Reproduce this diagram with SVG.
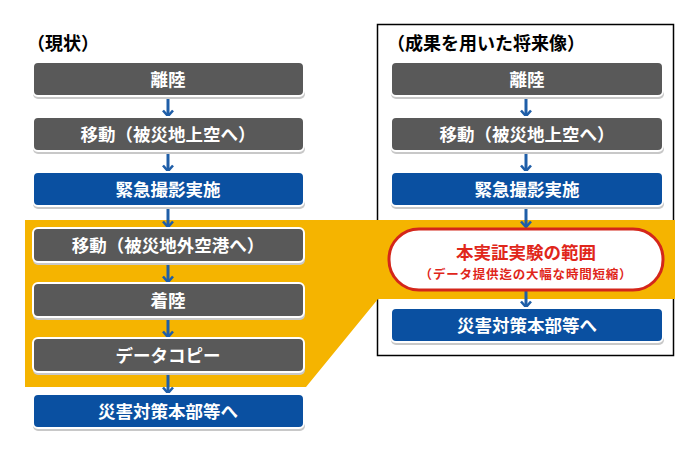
<svg xmlns="http://www.w3.org/2000/svg" width="694" height="450" viewBox="0 0 694 450">
<defs>
<style>
.t{font-family:"Noto Sans CJK JP","Noto Sans",sans-serif;font-weight:bold;}
.bx{stroke:#ffffff;stroke-width:2;}
.g{fill:#595959;}
.b{fill:#0A50A1;}
.sh{fill:#c8c8c8;}
.lbl{fill:#ffffff;font-size:17.5px;text-anchor:middle;}
.ar{stroke:#1F5EA8;stroke-width:3;fill:none;}
</style>
<marker id="ah" viewBox="0 0 10 12" refX="8.5" refY="6" markerWidth="10" markerHeight="12" markerUnits="userSpaceOnUse" orient="auto">
<path d="M3,1 L8.5,6 L3,11" fill="none" stroke="#1F5EA8" stroke-width="2.6"/>
</marker>
</defs>
<rect width="694" height="450" fill="#ffffff"/>
<rect x="377.5" y="24.5" width="296" height="331" fill="none" stroke="#000" stroke-width="1.5"/>
<polygon points="25,220 675,220 675,299 378,299 306,387 25,387" fill="#F5B400"/>
<text class="t" x="27" y="50" font-size="18" fill="#000">（現状）</text>
<text class="t" x="387" y="50" font-size="18" fill="#000">（成果を用いた将来像）</text>
<g id="connectors">
<line class="ar" x1="168" y1="97" x2="168" y2="116" marker-end="url(#ah)"/>
<line class="ar" x1="168" y1="152" x2="168" y2="171" marker-end="url(#ah)"/>
<line class="ar" x1="168" y1="207" x2="168" y2="227" marker-end="url(#ah)"/>
<line class="ar" x1="168" y1="263" x2="168" y2="282" marker-end="url(#ah)"/>
<line class="ar" x1="168" y1="318" x2="168" y2="337" marker-end="url(#ah)"/>
<line class="ar" x1="168" y1="373" x2="168" y2="393" marker-end="url(#ah)"/>
<line class="ar" x1="526" y1="97" x2="526" y2="116" marker-end="url(#ah)"/>
<line class="ar" x1="526" y1="152" x2="526" y2="171" marker-end="url(#ah)"/>
<line class="ar" x1="526" y1="207" x2="526" y2="227" marker-end="url(#ah)"/>
<line class="ar" x1="526" y1="290" x2="526" y2="307" marker-end="url(#ah)"/>
</g>
<g id="l1"><rect class="sh" x="33" y="64" width="272" height="35" rx="5"/><rect class="bx g" x="33" y="62" width="271" height="34" rx="5"/><text class="t lbl" x="168" y="85.5">離陸</text></g>
<g id="l2"><rect class="sh" x="33" y="119" width="272" height="35" rx="5"/><rect class="bx g" x="33" y="117" width="271" height="34" rx="5"/><text class="t lbl" x="168" y="140.5">移動（被災地上空へ）</text></g>
<g id="l3"><rect class="sh" x="33" y="174" width="272" height="35" rx="5"/><rect class="bx b" x="33" y="172" width="271" height="34" rx="5"/><text class="t lbl" x="168" y="195.5">緊急撮影実施</text></g>
<g id="l4"><rect class="sh" x="33" y="230" width="272" height="35" rx="5"/><rect class="bx g" x="33" y="228" width="271" height="34" rx="5"/><text class="t lbl" x="168" y="251.5">移動（被災地外空港へ）</text></g>
<g id="l5"><rect class="sh" x="33" y="285" width="272" height="35" rx="5"/><rect class="bx g" x="33" y="283" width="271" height="34" rx="5"/><text class="t lbl" x="168" y="306.5">着陸</text></g>
<g id="l6"><rect class="sh" x="33" y="340" width="272" height="35" rx="5"/><rect class="bx g" x="33" y="338" width="271" height="34" rx="5"/><text class="t lbl" x="168" y="361.5">データコピー</text></g>
<g id="l7"><rect class="sh" x="33" y="396" width="272" height="35" rx="5"/><rect class="bx b" x="33" y="394" width="271" height="34" rx="5"/><text class="t lbl" x="168" y="417.5">災害対策本部等へ</text></g>
<g id="r1"><rect class="sh" x="391" y="64" width="273" height="35" rx="5"/><rect class="bx g" x="391" y="62" width="272" height="34" rx="5"/><text class="t lbl" x="527" y="85.5">離陸</text></g>
<g id="r2"><rect class="sh" x="391" y="119" width="273" height="35" rx="5"/><rect class="bx g" x="391" y="117" width="272" height="34" rx="5"/><text class="t lbl" x="527" y="140.5">移動（被災地上空へ）</text></g>
<g id="r3"><rect class="sh" x="391" y="174" width="273" height="35" rx="5"/><rect class="bx b" x="391" y="172" width="272" height="34" rx="5"/><text class="t lbl" x="527" y="195.5">緊急撮影実施</text></g>
<g id="r4"><rect x="389" y="229" width="274" height="61" rx="30" fill="#ffffff" stroke="#D4261A" stroke-width="3"/><text class="t" x="526" y="259" font-size="17.5" fill="#E0261A" text-anchor="middle">本実証実験の範囲</text><text class="t" x="526" y="279" font-size="12.5" letter-spacing="0.8" fill="#E0261A" text-anchor="middle">（データ提供迄の大幅な時間短縮）</text></g>
<g id="r5"><rect class="sh" x="391" y="310" width="273" height="35" rx="5"/><rect class="bx b" x="391" y="308" width="272" height="34" rx="5"/><text class="t lbl" x="527" y="331.5">災害対策本部等へ</text></g>
</svg>
